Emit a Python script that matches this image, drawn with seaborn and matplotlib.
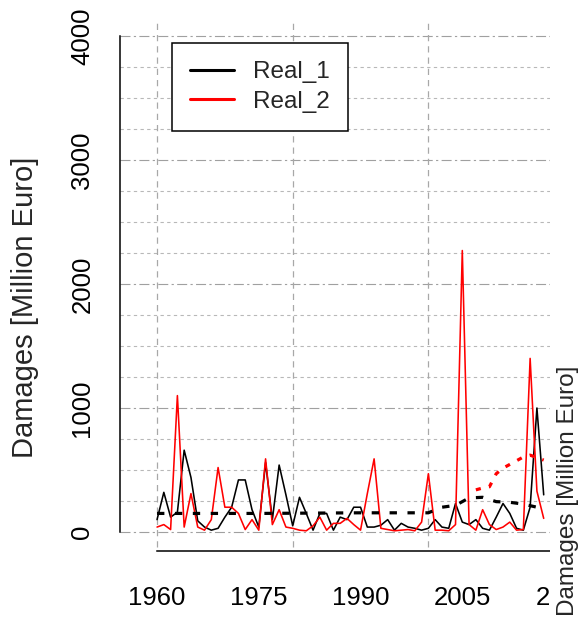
import numpy as np
import pandas as pd
import seaborn as sns
import matplotlib.pyplot as plt
from matplotlib.lines import Line2D
from matplotlib.patches import Rectangle
from matplotlib.ticker import MultipleLocator

# annual damages
years = list(range(1960, 2018))
real_1 = [100, 320, 120, 160, 660, 440, 90, 40, 15, 30,
          120, 200, 420, 420, 180, 40, 560, 100, 540, 300,
          50, 280, 150, 15, 150, 150, 15, 120, 100, 200,
          200, 40, 40, 55, 100, 15, 70, 40, 30, 15,
          30, 100, 40, 30, 230, 80, 60, 100, 30, 15,
          120, 230, 150, 30, 15, 200, 1000, 300]
real_2 = [40, 60, 20, 1100, 40, 310, 40, 15, 100, 520,
          200, 200, 150, 20, 100, 15, 590, 60, 180, 40,
          30, 15, 10, 50, 120, 15, 70, 70, 110, 60,
          15, 310, 590, 30, 20, 10, 15, 20, 10, 80,
          470, 15, 15, 10, 60, 2270, 60, 15, 180, 60,
          20, 40, 80, 15, 20, 1400, 330, 110]

# trend lines (dashed black, dotted red)
trend_1_years = [1960, 1975, 1990, 2000, 2002, 2004, 2006, 2008, 2010, 2012, 2014, 2016, 2017]
trend_1 = [150, 150, 155, 155, 200, 215, 275, 280, 245, 240, 225, 200, 180]
trend_2_years = [2007, 2008, 2009, 2010, 2011, 2012, 2013, 2014, 2015, 2016, 2017]
trend_2 = [340, 355, 365, 470, 515, 545, 575, 605, 620, 600, 580]

tick_years = list(range(1960, 2021, 5))
tick_labels = ["1960", "", "", "1975", "", "", "1990", "", "", "2005", "", "", "2020"]
grid_years = [1960, 1980, 2000, 2020]

df = pd.DataFrame({"year": years + years,
                   "damage": real_1 + real_2,
                   "series": ["Real_1"] * len(years) + ["Real_2"] * len(years)})

sns.set_style("white")
plt.rcParams["font.family"] = ["Liberation Sans", "DejaVu Sans"]

fig = plt.figure(figsize=(5.8, 6.19), dpi=100)
ax = fig.add_axes([120 / 580, 68 / 619, 480 / 580, 535 / 619])

sns.lineplot(data=df, x="year", y="damage", hue="series",
             palette={"Real_1": "black", "Real_2": "red"},
             linewidth=1.15, legend=False, ax=ax, zorder=3)
sns.lineplot(x=trend_1_years, y=trend_1, color="black", linewidth=2.3,
             linestyle=(0, (2.3, 3.3)), ax=ax, zorder=4)
sns.lineplot(x=trend_2_years, y=trend_2, color="red", linewidth=2.3,
             linestyle=(0, (1.6, 2.6)), ax=ax, zorder=4)

ax.set_xlim(1954.54, 2025.3)
ax.set_ylim(-153, 4161)

# grid
for gy in grid_years:
    ax.axvline(gy, ymin=0.008, ymax=0.99, color="#a8a8a8", lw=0.9, ls=(0, (5, 4)), zorder=1)
ax.yaxis.set_major_locator(MultipleLocator(1000))
ax.yaxis.set_minor_locator(MultipleLocator(250))
ax.grid(which="major", axis="y", color="#a0a0a0", lw=0.8, ls=(0, (9, 3, 2, 3)), zorder=1)
ax.grid(which="minor", axis="y", color="#b8b8b8", lw=0.8, ls=(0, (3, 3)), zorder=1)
ax.grid(which="major", axis="x", visible=False)
ax.set_axisbelow(True)

ax.set_xticks(tick_years)
ax.set_xticklabels(tick_labels)
ax.tick_params(axis="x", length=10.8, width=1.1, pad=14.4, labelsize=18.5, colors="black")
ax.tick_params(axis="y", which="major", length=11.5, width=1.1, pad=7, labelsize=18.5,
               labelrotation=90, colors="black")
ax.tick_params(axis="y", which="minor", length=0)
for lbl in ax.get_yticklabels():
    lbl.set_va("center")

for s in ["top", "right"]:
    ax.spines[s].set_visible(False)
ax.spines["left"].set_bounds(0, 4000)
ax.spines["bottom"].set_bounds(1960, 2020)
for s in ["left", "bottom"]:
    ax.spines[s].set_linewidth(1.1)
    ax.spines[s].set_color("black")

ax.set_xlabel("")
ax.set_ylabel("Damages [Million Euro]", fontsize=21)
ax.yaxis.set_label_coords(-0.169, 0.456)

handles = [Line2D([], [], color="black", lw=2.2), Line2D([], [], color="red", lw=2.2)]
leg = ax.legend(handles, ["Real_1", "Real_2"], loc="upper left",
                bbox_to_anchor=(172 / 580, 1 - 43 / 619), bbox_transform=fig.transFigure,
                fontsize=17.5, frameon=True, fancybox=False, framealpha=1,
                edgecolor="black", handlelength=1.8, handletextpad=0.8,
                borderpad=0.75, labelspacing=0.3, borderaxespad=0)
leg.get_frame().set_linewidth(1.1)

# neighbouring panel edge
fig.add_artist(Rectangle((550 / 580, 0), 30 / 580, 1, transform=fig.transFigure,
                         facecolor="white", edgecolor="none", zorder=5))
fig.text(568 / 580, 0.207, "Damages [Million Euro]", rotation=90, fontsize=17.5,
         ha="center", va="center", zorder=6)

fig.savefig("out.png", dpi=100)
